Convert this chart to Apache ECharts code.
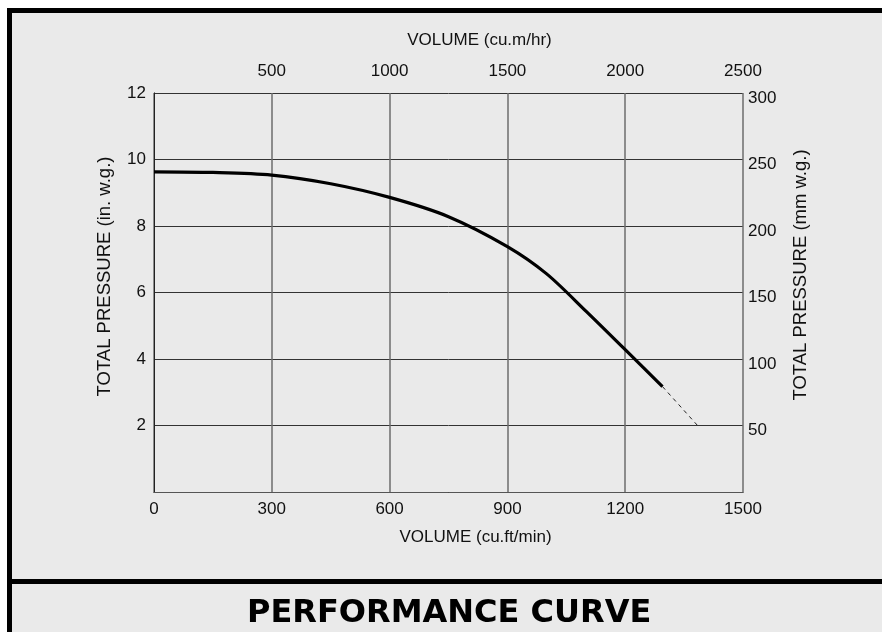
<!DOCTYPE html>
<html>
<head>
<meta charset="utf-8">
<script src="https://cdn.jsdelivr.net/npm/echarts@6/dist/echarts.min.js"></script>
<style>
  html, body { margin: 0; padding: 0; background: #ffffff; }
  #chart { width: 882px; height: 632px; }
</style>
</head>
<body>
<div id="chart"></div>
<script>
// ---- data ----
const volumeCfm = [0, 150, 300, 450, 600, 750, 900, 1000, 1100, 1200, 1295];
const pressureInWg = [9.63, 9.61, 9.53, 9.27, 8.86, 8.28, 7.38, 6.56, 5.44, 4.28, 3.17];
const extCfm = [1295, 1385];
const extPressure = [3.17, 1.99];

const bottomTicks = [0, 300, 600, 900, 1200, 1500];
const topTicks = [0, 500, 1000, 1500, 2000, 2500];
const leftTicks = [0, 2, 4, 6, 8, 10, 12];
const rightTicks = [0, 50, 100, 150, 200, 250, 300];

const titleText = 'PERFORMANCE CURVE';
const bottomName = 'VOLUME (cu.ft/min)';
const topName = 'VOLUME (cu.m/hr)';
const leftName = 'TOTAL PRESSURE (in. w.g.)';
const rightName = 'TOTAL PRESSURE (mm w.g.)';

// ---- chart ----
const chart = echarts.init(document.getElementById('chart'), null, { renderer: 'canvas' });
const FONT = '"Liberation Sans", Arial, sans-serif';
const labelStyle = { color: '#111', fontFamily: FONT, fontSize: 17 };
const step = a => a[1] - a[0];
const last = a => a[a.length - 1];
const plain = v => String(v);
const hideZero = v => (v === 0 ? '' : String(v));

const mainData = volumeCfm.map((v, i) => [v, pressureInWg[i]]);
const extData = extCfm.map((v, i) => [v, extPressure[i]]);

const option = {
  backgroundColor: '#eaeaea',
  animation: false,
  grid: { left: 154, top: 93, width: 589, height: 399, containLabel: false },
  xAxis: [
    {
      type: 'value', position: 'bottom',
      min: bottomTicks[0], max: last(bottomTicks), interval: step(bottomTicks),
      name: bottomName, nameLocation: 'middle', nameGap: 37,
      nameTextStyle: { color: '#111', fontFamily: FONT, fontSize: 17, padding: [0, 0, 0, 54] },
      axisLine: { show: true, lineStyle: { color: '#222', width: 1 } },
      axisTick: { show: false },
      axisLabel: Object.assign({ margin: 9, formatter: plain }, labelStyle),
      splitLine: { show: true, lineStyle: { color: '#6c6c6c', width: 1.5 } }
    },
    {
      type: 'value', position: 'top',
      min: topTicks[0], max: last(topTicks), interval: step(topTicks),
      name: topName, nameLocation: 'middle', nameGap: 44,
      nameTextStyle: { color: '#111', fontFamily: FONT, fontSize: 17, padding: [0, 0, 0, 62] },
      axisLine: { show: true, lineStyle: { color: '#555', width: 1 } },
      axisTick: { show: false },
      axisLabel: Object.assign({ margin: 13, showMinLabel: false, formatter: hideZero }, labelStyle),
      splitLine: { show: false }
    }
  ],
  yAxis: [
    {
      type: 'value', position: 'left',
      min: leftTicks[0], max: last(leftTicks), interval: step(leftTicks),
      name: leftName, nameLocation: 'middle', nameGap: 40,
      nameTextStyle: { color: '#111', fontFamily: FONT, fontSize: 18.5, padding: [0, 0, 0, 32] },
      axisLine: { show: true, lineStyle: { color: '#777', width: 1 } },
      axisTick: { show: false },
      axisLabel: Object.assign({ margin: 8, showMinLabel: false, formatter: hideZero }, labelStyle),
      splitLine: { show: true, lineStyle: { color: '#333', width: 1 } }
    },
    {
      type: 'value', position: 'right',
      min: rightTicks[0], max: last(rightTicks), interval: step(rightTicks),
      name: rightName, nameLocation: 'middle', nameGap: 48,
      nameTextStyle: { color: '#111', fontFamily: FONT, fontSize: 18.5, padding: [0, 0, 0, 35] },
      axisLine: { show: true, lineStyle: { color: '#222', width: 1 } },
      axisTick: { show: false },
      axisLabel: Object.assign({ margin: 5, showMinLabel: false, formatter: hideZero,
        verticalAlign: 'top', lineHeight: 10 }, labelStyle),
      splitLine: { show: false }
    }
  ],
  series: [
    {
      name: 'Performance', type: 'line', xAxisIndex: 0, yAxisIndex: 0,
      data: mainData, smooth: 0.3, symbol: 'none',
      lineStyle: { color: '#000', width: 3.2, cap: 'butt' }, z: 5
    },
    {
      name: 'Extension', type: 'line', xAxisIndex: 0, yAxisIndex: 0,
      data: extData, smooth: false, symbol: 'none',
      lineStyle: { color: '#222', width: 1, type: [4, 4] }, z: 4
    }
  ],
  graphic: [
    { type: 'rect', shape: { x: 0, y: 0, width: 882, height: 8 }, style: { fill: '#ffffff' }, silent: true },
    { type: 'rect', shape: { x: 0, y: 0, width: 7, height: 632 }, style: { fill: '#ffffff' }, silent: true },
    { type: 'rect', shape: { x: 7, y: 8, width: 875, height: 5 }, style: { fill: '#000' }, silent: true },
    { type: 'rect', shape: { x: 7, y: 8, width: 5, height: 624 }, style: { fill: '#000' }, silent: true },
    { type: 'rect', shape: { x: 7, y: 579, width: 875, height: 5 }, style: { fill: '#000' }, silent: true },
    {
      type: 'text', left: 447 - 200, top: 598, silent: true,
      style: {
        text: titleText, fill: '#000',
        font: 'bold 32px "DejaVu Sans", Verdana, sans-serif',
        width: 400, align: 'left'
      }
    }
  ]
};
chart.setOption(option);
</script>
</body>
</html>
